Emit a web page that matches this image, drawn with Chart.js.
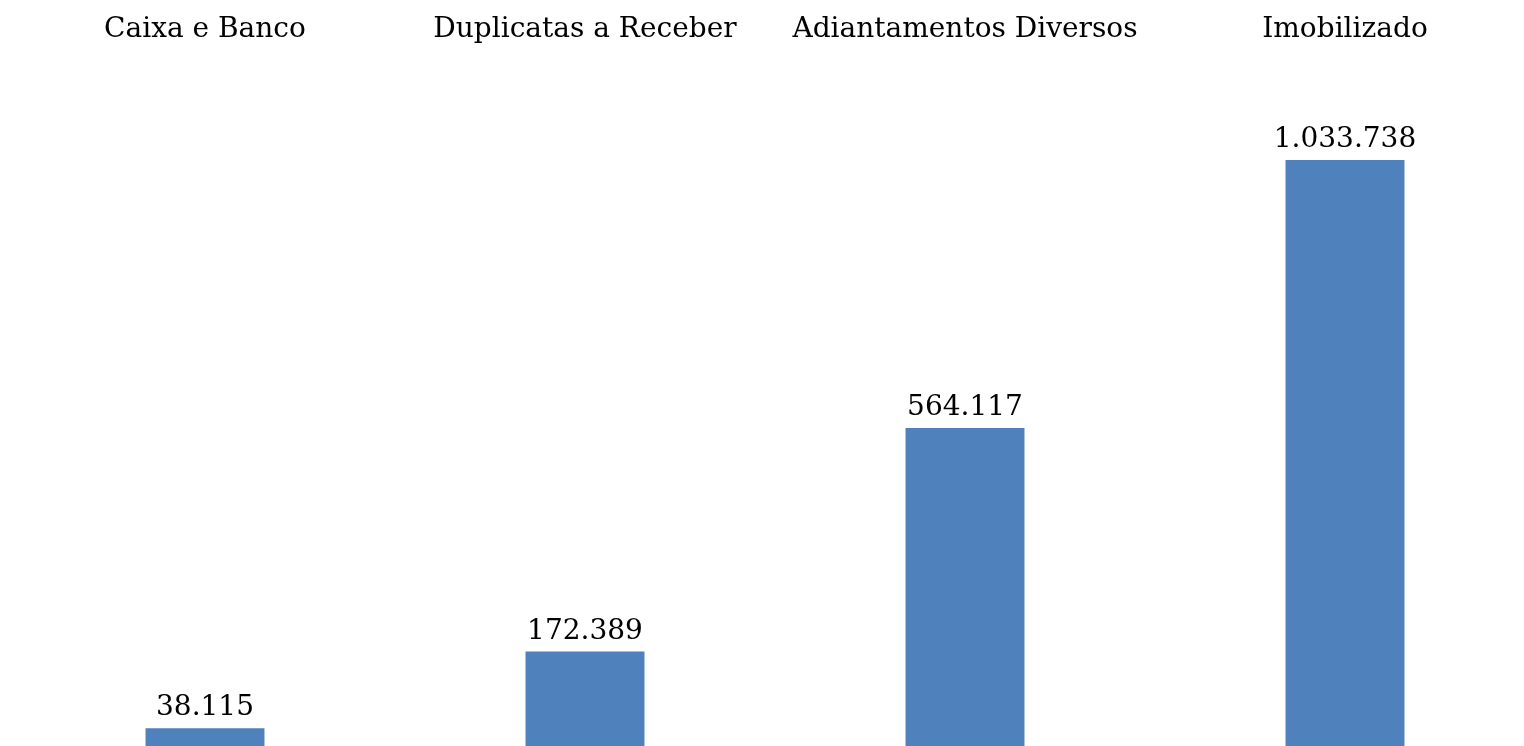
<!DOCTYPE html>
<html>
<head>
<meta charset="utf-8">
<script src="https://cdn.jsdelivr.net/npm/chart.js@4/dist/chart.umd.min.js"></script>
<style>
  html, body { margin: 0; padding: 0; background: #fff; overflow: hidden; }
  #wrap { position: absolute; left: 15px; top: 0; width: 1520px; height: 750px; }
</style>
</head>
<body>
<div id="wrap"><canvas id="grafico"></canvas></div>
<script>
// Dados do gráfico
const categorias = ["Caixa e Banco", "Duplicatas a Receber", "Adiantamentos Diversos", "Imobilizado"];
const valores = [38115, 172389, 564117, 1033738];

const fonte = "'DejaVu Serif', 'Liberation Serif', serif";

// formata com ponto como separador de milhar
function formatar(v) {
    return String(v).replace(/\B(?=(\d{3})+(?!\d))/g, ".");
}

// rótulos de valor acima das barras
const rotulosValor = {
    id: "rotulosValor",
    afterDatasetsDraw(chart) {
        const ctx = chart.ctx;
        const meta = chart.getDatasetMeta(0);
        ctx.save();
        ctx.font = "28px " + fonte;
        ctx.fillStyle = "#000";
        ctx.textAlign = "center";
        ctx.textBaseline = "alphabetic";
        meta.data.forEach((barra, i) => {
            ctx.fillText(formatar(valores[i]), barra.x, barra.y - 13);
        });
        ctx.restore();
    }
};

new Chart(document.getElementById("grafico"), {
    type: "bar",
    data: {
        labels: categorias,
        datasets: [{
            data: valores,
            backgroundColor: "#4F81BD",
            borderWidth: 0,
            barPercentage: 1,
            categoryPercentage: 0.313
        }]
    },
    options: {
        responsive: true,
        maintainAspectRatio: false,
        animation: false,
        layout: { padding: 0 },
        plugins: {
            legend: { display: false },
            tooltip: { enabled: false }
        },
        scales: {
            x: {
                position: "top",
                grid: { display: false, drawTicks: false },
                border: { display: false },
                ticks: {
                    color: "#000",
                    padding: 18,
                    maxRotation: 0,
                    autoSkip: false,
                    font: { family: fonte, size: 28 }
                },
                afterFit(s) { s.height = 65; }
            },
            y: {
                display: false,
                min: 0,
                max: 1200000
            }
        }
    },
    plugins: [rotulosValor]
});
</script>
</body>
</html>
